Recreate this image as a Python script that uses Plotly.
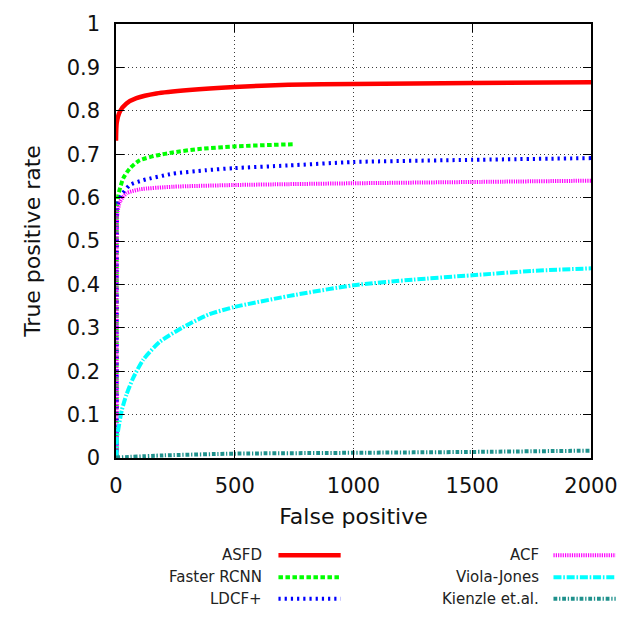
import plotly.graph_objects as go

# ROC-style detection curves: true positive rate against false positives
methods = ["ASFD", "Faster RCNN", "LDCF+", "ACF", "Viola-Jones", "Kienzle et.al."]

asfd_fp = [0, 3, 17, 44, 86, 170, 308, 499, 725, 1000, 1500, 2000]
asfd_tpr = [0.731, 0.772, 0.799, 0.817, 0.829, 0.840, 0.848, 0.855, 0.860, 0.862, 0.864, 0.866]

frcnn_fp = [3, 3, 4, 10, 30, 58, 100, 170, 239, 350, 499, 746]
frcnn_tpr = [0.0, 0.50, 0.570, 0.606, 0.644, 0.667, 0.686, 0.697, 0.704, 0.712, 0.718, 0.723]

ldcf_fp = [3, 3, 5, 10, 24, 58, 114, 239, 378, 499, 725, 1000, 1500, 2000]
ldcf_tpr = [0.0, 0.50, 0.569, 0.590, 0.606, 0.629, 0.640, 0.655, 0.663, 0.668, 0.674, 0.682, 0.687, 0.691]

acf_fp = [3, 3, 5, 17, 44, 100, 239, 499, 725, 1000, 1500, 2000]
acf_tpr = [0.0, 0.50, 0.561, 0.591, 0.610, 0.619, 0.625, 0.629, 0.631, 0.633, 0.636, 0.639]

vj_fp = [3, 3, 24, 44, 72, 114, 183, 281, 392, 499, 725, 1000, 1250, 1500, 1750, 2000]
vj_tpr = [0.0, 0.041, 0.109, 0.146, 0.184, 0.226, 0.267, 0.301, 0.331, 0.348, 0.373, 0.398, 0.411, 0.421, 0.431, 0.437]

kienzle_fp = [0, 200, 500, 1000, 1500, 2000]
kienzle_tpr = [0.001, 0.006, 0.010, 0.012, 0.014, 0.017]

x_ticks = [0, 500, 1000, 1500, 2000]
y_ticks = [0, 0.1, 0.2, 0.3, 0.4, 0.5, 0.6, 0.7, 0.8, 0.9, 1]
y_tick_text = ["0", "0.1", "0.2", "0.3", "0.4", "0.5", "0.6", "0.7", "0.8", "0.9", "1"]

series = [
    (asfd_fp, asfd_tpr),
    (frcnn_fp, frcnn_tpr),
    (ldcf_fp, ldcf_tpr),
    (acf_fp, acf_tpr),
    (vj_fp, vj_tpr),
    (kienzle_fp, kienzle_tpr),
]

styles = [
    dict(color="#ff0000", width=4.5, dash="solid"),
    dict(color="#00ff00", width=4, dash="4.5px,2.5px"),
    dict(color="#0000ff", width=4, dash="2.2px,4px"),
    dict(color="#ff00ff", width=4, dash="1.2px,1.1px"),
    dict(color="#00ffff", width=4, dash="8px,1.8px,1.6px,1.8px"),
    dict(color="#1f918c", width=4, dash="3.8px,1.8px,1.3px,1.8px"),
]

fig = go.Figure()
for name, (fp, tpr), st in zip(methods, series, styles):
    fig.add_trace(go.Scatter(
        x=fp, y=tpr, mode="lines", name=name,
        line=dict(color=st["color"], width=st["width"], dash=st["dash"], shape="spline", smoothing=0.6),
        showlegend=False,
    ))

FONT = "DejaVu Sans, Verdana, sans-serif"

# key below the axes: two columns, label to the left of the line sample
rows_y = [-0.224, -0.275, -0.3245]
cols = [
    dict(text_x=0.3125, line_x0=0.342, line_x1=0.473),
    dict(text_x=0.894, line_x0=0.921, line_x1=1.052),
]
shapes = []
annotations = []
for i, (name, st) in enumerate(zip(methods, styles)):
    col = cols[i // 3]
    yy = rows_y[i % 3]
    annotations.append(dict(
        x=col["text_x"], y=yy, xref="paper", yref="paper", text=name, showarrow=False,
        xanchor="right", yanchor="middle", font=dict(family=FONT, size=15, color="#222"),
    ))
    shapes.append(dict(
        type="line", xref="paper", yref="paper", x0=col["line_x0"], x1=col["line_x1"], y0=yy, y1=yy,
        line=dict(color=st["color"], width=st["width"], dash=st["dash"]),
    ))

fig.update_layout(
    width=630, height=617,
    margin=dict(l=116, r=34, t=16, b=159),
    paper_bgcolor="white", plot_bgcolor="white",
    font=dict(family=FONT, size=21, color="#111"),
    shapes=shapes, annotations=annotations,
    showlegend=False,
)
grid_style = dict(showgrid=True, gridcolor="#3a3a3a", griddash="1px,3px", gridwidth=1)
fig.update_xaxes(
    range=[0, 2000], tickvals=x_ticks, ticktext=[str(v) for v in x_ticks],
    showline=True, linecolor="black", linewidth=1.5, mirror="ticks",
    ticks="inside", ticklen=8, tickcolor="black", tickwidth=1.2,
    zeroline=False, ticklabelstandoff=8,
    title=dict(text="False positive", font=dict(size=22), standoff=12),
    **grid_style,
)
fig.update_yaxes(
    range=[0, 1], tickvals=y_ticks, ticktext=y_tick_text,
    showline=True, linecolor="black", linewidth=1.5, mirror="ticks",
    ticks="inside", ticklen=8, tickcolor="black", tickwidth=1.2,
    zeroline=False, ticklabelstandoff=10,
    title=dict(text="True positive rate", font=dict(size=22), standoff=20),
    **grid_style,
)

fig.write_html("out.html")
